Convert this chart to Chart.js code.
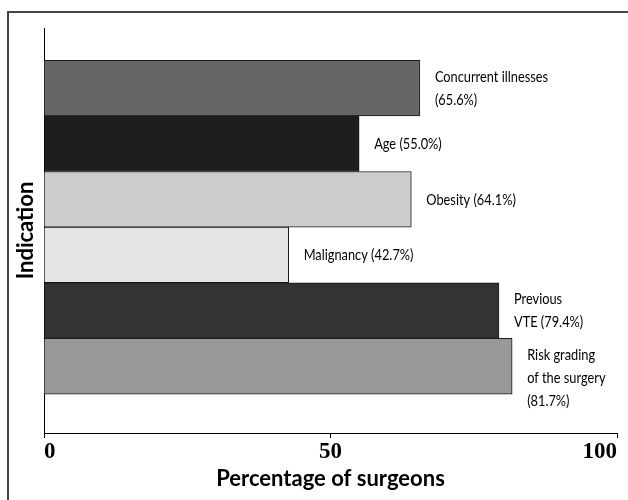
<!DOCTYPE html>
<html>
<head>
<meta charset="utf-8">
<script src="https://cdn.jsdelivr.net/npm/chart.js@4.4.1/dist/chart.umd.min.js"></script>
<style>
  html, body { margin: 0; padding: 0; background: #fff; }
</style>
</head>
<body>
<canvas id="chart1" width="628" height="500"></canvas>
<script>
// indications, top to bottom
const categories = ["Concurrent illnesses", "Age", "Obesity", "Malignancy", "Previous VTE", "Risk grading of the surgery"];
const labelLines = [["Concurrent illnesses"], ["Age"], ["Obesity"], ["Malignancy"], ["Previous", "VTE"], ["Risk grading", "of the surgery"]];
const percentages = [65.6, 55.0, 64.1, 42.7, 79.4, 81.7];
const barColors = ["#666666", "#1e1e1e", "#cccccc", "#e4e4e4", "#333333", "#999999"];
const xTicks = [0, 50, 100];

const canvas1 = document.getElementById("chart1");

// writes "Name (xx.x%)" to the right of each bar
const barNotes = {
  id: "barNotes",
  afterDatasetsDraw(chart) {
    const c = chart.ctx;
    const meta = chart.getDatasetMeta(0);
    c.save();
    c.fillStyle = "#000";
    c.font = "16px Lato";
    c.textBaseline = "middle";
    c.textAlign = "left";
    meta.data.forEach((bar, i) => {
      let lines = labelLines[i].slice();
      const pct = "(" + percentages[i].toFixed(1) + "%)";
      if (lines.length == 1 && i > 0) {
        lines[0] = lines[0] + " " + pct;
      } else if (lines.length == 2 && i == 4) {
        lines[1] = lines[1] + " " + pct;
      } else {
        lines.push(pct);
      }
      let y = lines.length > 1 ? bar.y - 11.5 : bar.y;
      lines.forEach(t => {
        c.save();
        c.translate(bar.x + 15, y);
        c.scale(0.8, 1);
        c.fillText(t, 0, 0);
        c.restore();
        y += 23;
      });
    });
    c.restore();
  }
};

// frame round the figure
const frame = {
  id: "frame",
  beforeDraw(chart) {
    const c = chart.ctx;
    c.save();
    c.strokeStyle = "#444";
    c.lineWidth = 2;
    c.strokeRect(8, 12, 700, 600);
    c.restore();
  }
};

new Chart(canvas1, {
  type: "bar",
  data: {
    labels: categories,
    datasets: [{
      data: percentages.map((v, i) => ({ x: v, y: i + 1 })),
      backgroundColor: barColors,
      borderColor: "#1a1a1a",
      borderWidth: 1,
      barPercentage: 1,
      categoryPercentage: 1
    }]
  },
  options: {
    indexAxis: "y",
    responsive: false,
    animation: false,
    layout: { padding: { left: 0, right: 11, top: 28, bottom: 0 } },
    plugins: { legend: { display: false }, tooltip: { enabled: false } },
    scales: {
      x: {
        type: "linear",
        min: 0,
        max: 100,
        afterBuildTicks: s => { s.ticks = xTicks.map(v => ({ value: v })); },
        afterFit: s => { s.height = 67; },
        ticks: {
          align: "inner",
          padding: 0,
          color: "#000",
          font: { family: "Liberation Serif", size: 23, weight: "bold" }
        },
        grid: { drawOnChartArea: false, drawTicks: true, tickLength: 5, color: "#000" },
        border: { display: true, color: "#000", width: 1 },
        title: {
          display: true,
          text: "Percentage of surgeons",
          color: "#000",
          font: { family: "Lato", size: 22, weight: "bold" },
          padding: { top: 0, bottom: 8 }
        }
      },
      y: {
        type: "linear",
        reverse: true,
        min: -0.08,
        max: 7.2,
        offset: false,
        afterFit: s => { s.width = 44; },
        ticks: { display: false },
        grid: { display: false },
        border: { display: true, color: "#000", width: 1 },
        title: {
          display: true,
          text: "Indication",
          color: "#000",
          font: { family: "Lato", size: 22, weight: "bold" },
          padding: { top: 13, bottom: 0 }
        }
      }
    }
  },
  plugins: [frame, barNotes]
});
</script>
</body>
</html>
